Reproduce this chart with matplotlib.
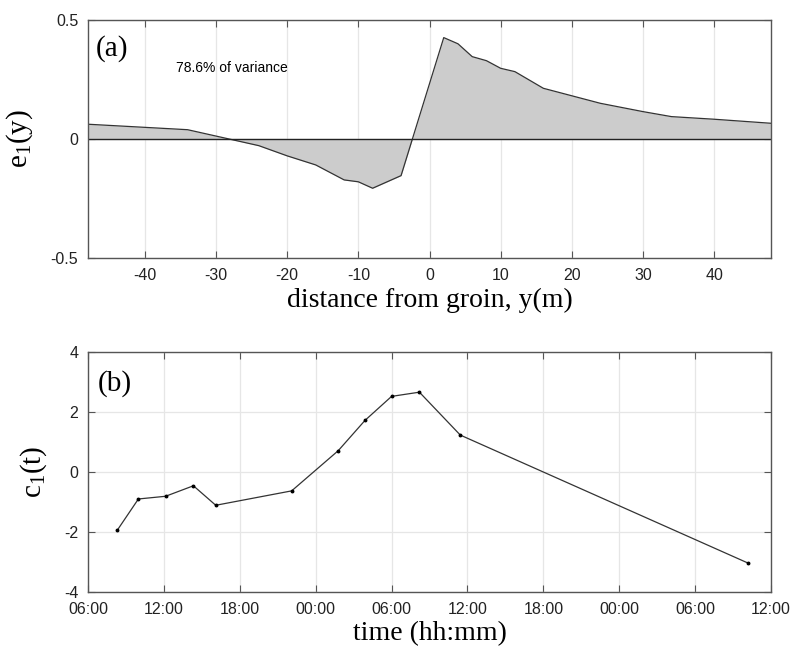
import matplotlib
matplotlib.use("Agg")
import matplotlib.pyplot as plt
import matplotlib.dates as mdates
import numpy as np
import pandas as pd

# panel (a): EOF spatial mode
distance = [-48, -34, -24, -20, -16, -12, -10, -8, -4, 2, 4, 6, 8, 10, 12, 16, 24, 30, 34, 40, 48]
e1 = [0.062, 0.039, -0.028, -0.071, -0.109, -0.172, -0.180, -0.207, -0.154,
      0.426, 0.400, 0.346, 0.329, 0.297, 0.283, 0.213, 0.150, 0.115, 0.094, 0.083, 0.066]

# panel (b): temporal amplitude
times = ["2000-01-01 08:19", "2000-01-01 09:59", "2000-01-01 12:08", "2000-01-01 14:20",
         "2000-01-01 16:06", "2000-01-01 22:06", "2000-01-02 01:47", "2000-01-02 03:54",
         "2000-01-02 06:00", "2000-01-02 08:12", "2000-01-02 11:26", "2000-01-03 10:12"]
c1 = [-1.93, -0.89, -0.80, -0.45, -1.10, -0.62, 0.72, 1.73, 2.53, 2.67, 1.24, -3.03]

serif = ["Liberation Serif", "DejaVu Serif"]
sans = ["Liberation Sans", "DejaVu Sans"]
plt.rcParams["font.family"] = sans
plt.rcParams["mathtext.fontset"] = "custom"
plt.rcParams["mathtext.rm"] = "Liberation Serif"
plt.rcParams["mathtext.it"] = "Liberation Serif"

edge = "#555555"
grid_c = "#e6e6e6"

fig = plt.figure(figsize=(7.9, 6.49), dpi=100)
ax1 = fig.add_axes([0.1114, 0.6025, 0.8646, 0.3667])
ax2 = fig.add_axes([0.1114, 0.0874, 0.8646, 0.3698])


def style(ax):
    for s in ax.spines.values():
        s.set_color(edge)
        s.set_linewidth(1.0)
    ax.tick_params(direction="in", top=True, right=True, length=5,
                   color=edge, labelsize=11.5, labelcolor="#222222", pad=7)
    ax.grid(True, color=grid_c, linewidth=0.9)
    ax.set_axisbelow(True)


# (a)
x = np.array(distance)
y = np.array(e1)
ax1.fill_between(x, 0, y, color="#cccccc", linewidth=0)
ax1.plot(x, y, color="#333333", linewidth=0.9)
ax1.axhline(0, color="#222222", linewidth=1.0)
ax1.set_xlim(-48, 48)
ax1.set_ylim(-0.5, 0.5)
ax1.set_xticks(np.arange(-40, 41, 10))
ax1.set_yticks([-0.5, 0, 0.5])
ax1.set_yticklabels(["-0.5", "0", "0.5"])
ax1.set_xticklabels([str(v) for v in range(-40, 41, 10)])
style(ax1)
ax1.set_xlabel("distance from groin, y(m)", family=serif, fontsize=20, labelpad=4)
ax1.set_ylabel(r"e$_1$(y)", family=serif, fontsize=21, labelpad=11)
ax1.text(0.012, 0.88, "(a)", transform=ax1.transAxes, family=serif, fontsize=21,
         va="center", ha="left")
ax1.text(-35.7, 0.30, "78.6% of variance", fontsize=10, va="center", ha="left")

# (b)
t = pd.to_datetime(times)
ax2.plot(t, c1, color="#333333", linewidth=0.9, marker="o", markersize=1.8,
         markerfacecolor="black", markeredgecolor="black")
ax2.set_xlim(pd.Timestamp("2000-01-01 06:00"), pd.Timestamp("2000-01-03 12:00"))
ax2.set_ylim(-4, 4)
ax2.set_yticks([-4, -2, 0, 2, 4])
ax2.set_yticklabels(["-4", "-2", "0", "2", "4"])
ax2.xaxis.set_major_locator(mdates.HourLocator(byhour=[0, 6, 12, 18]))
ax2.xaxis.set_major_formatter(mdates.DateFormatter("%H:%M"))
style(ax2)
ax2.set_xlabel("time (hh:mm)", family=serif, fontsize=20, labelpad=3)
ax2.set_ylabel(r"c$_1$(t)", family=serif, fontsize=21, labelpad=11)
ax2.text(0.014, 0.87, "(b)", transform=ax2.transAxes, family=serif, fontsize=21,
         va="center", ha="left")

fig.savefig("out.png", dpi=100)
